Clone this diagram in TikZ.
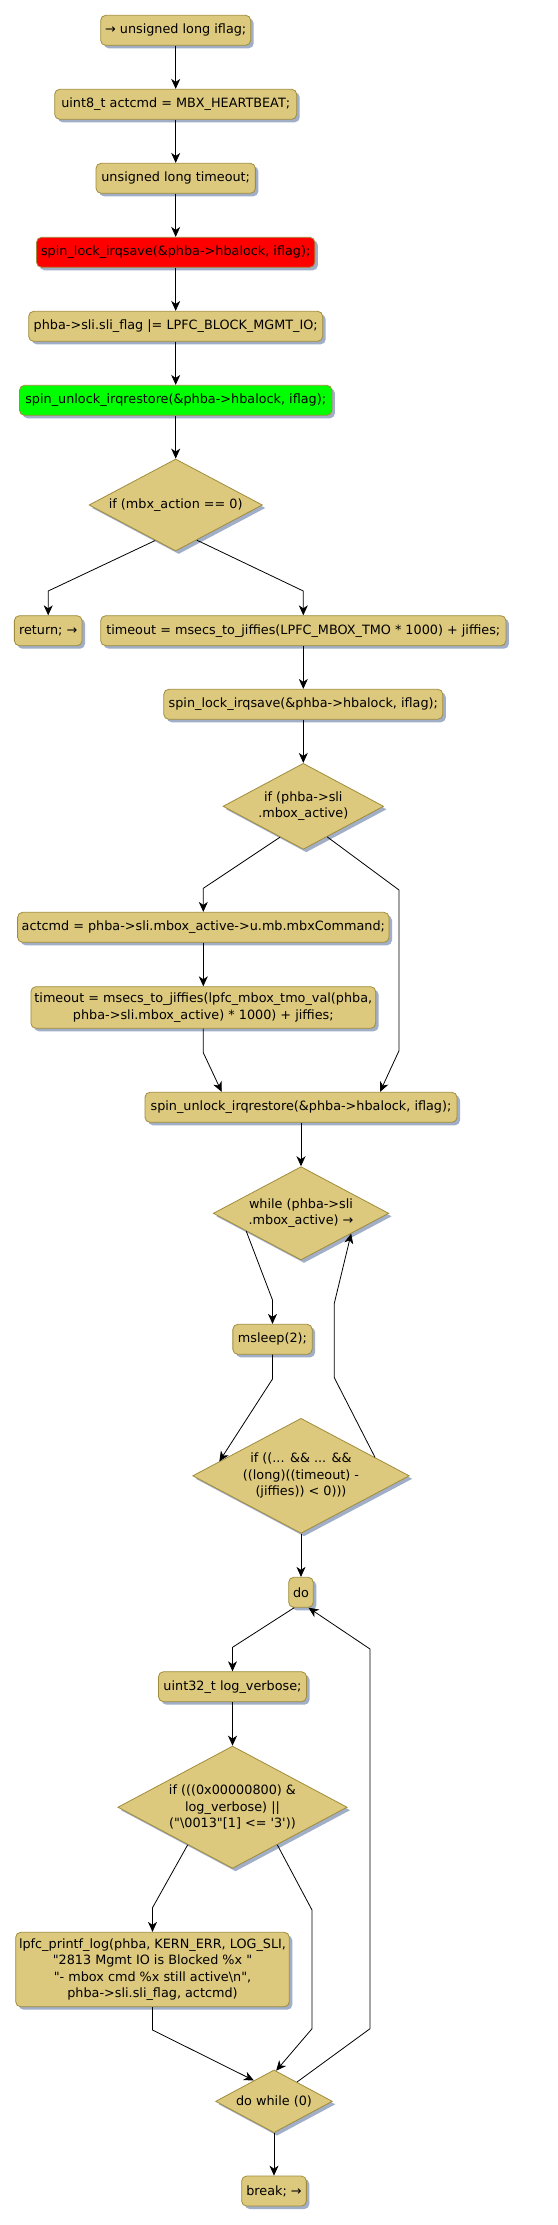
\documentclass[tikz,border=0pt]{standalone}
\usepackage{fontspec}
\newfontfamily\dvs{DejaVu Sans}
\usetikzlibrary{shapes.geometric,arrows.meta,shadows,calc}
\definecolor{boxfill}{RGB}{221,201,125}
\definecolor{boxdraw}{RGB}{160,140,60}
\definecolor{shadowc}{RGB}{160,174,200}
\definecolor{redfill}{RGB}{255,0,0}
\definecolor{greenfill}{RGB}{0,255,0}
\begin{document}
\begin{tikzpicture}[x=1pt,y=-1pt,
  every node/.style={font=\dvs\fontsize{12.8}{16.4}\selectfont},
  sbox/.style={draw=boxdraw, fill=boxfill, rounded corners=5pt, minimum height=30pt,
    inner sep=0pt, align=center, line width=0.8pt,
    general shadow={fill=shadowc, shadow xshift=3pt, shadow yshift=-3pt}},
  dbox/.style={diamond, draw=boxdraw, fill=boxfill, inner sep=0pt, line width=0.8pt,
    general shadow={fill=shadowc, shadow xshift=3pt, shadow yshift=-3pt}},
  lbl/.style={inner sep=0pt, align=center},
  conn/.style={draw=black, line width=0.8pt, -{Stealth[length=10pt,width=9pt,inset=3pt]}}
]
\fill[white] (0,0) rectangle (557,2225);
\useasboundingbox (0,0) rectangle (557,2225);

% main column
\node[sbox, minimum width=150pt] (b1) at (175.7,30.3) {→ unsigned long iflag;};
\node[sbox, minimum width=242pt] (b2) at (175.7,104.3) {uint8\_t actcmd = MBX\_HEARTBEAT;};
\node[sbox, minimum width=159.3pt] (b3) at (175.7,178.3) {unsigned long timeout;};
\node[sbox, minimum width=278.3pt, fill=redfill, draw=boxdraw] (b4) at (175.7,252.3) {spin\_lock\_irqsave(\&phba->hbalock, iflag);};
\node[sbox, minimum width=294pt] (b5) at (175.7,326.3) {phba->sli.sli\_flag |= LPFC\_BLOCK\_MGMT\_IO;};
\node[sbox, minimum width=312.4pt, fill=greenfill] (b6) at (175.7,400.3) {spin\_unlock\_irqrestore(\&phba->hbalock, iflag);};

\node[dbox, minimum width=173.3pt, minimum height=92pt] (d1) at (175.7,505) {};
\node[lbl] (t1) at (d1.center) {if (mbx\_action == 0)};

\node[sbox, minimum width=67.7pt] (ret) at (48.2,630.7) {return; →};
\node[sbox, minimum width=405.3pt] (to1) at (303.3,630.7) {timeout = msecs\_to\_jiffies(LPFC\_MBOX\_TMO * 1000) + jiffies;};
\node[sbox, minimum width=279pt] (sl2) at (303.3,704.3) {spin\_lock\_irqsave(\&phba->hbalock, iflag);};

\node[dbox, minimum width=160.6pt, minimum height=86pt] (d2) at (303.3,806.3) {};
\node[lbl] (t2) at (d2.center) {if (phba->sli\\.mbox\_active)};

\node[sbox, minimum width=371.4pt] (ac) at (203.3,927.3) {actcmd = phba->sli.mbox\_active->u.mb.mbxCommand;};
\node[sbox, minimum width=344.7pt, minimum height=41.6pt] (to2) at (203.3,1007.5) {timeout = msecs\_to\_jiffies(lpfc\_mbox\_tmo\_val(phba,\\phba->sli.mbox\_active) * 1000) + jiffies;};
\node[sbox, minimum width=312pt] (su2) at (301,1107.3) {spin\_unlock\_irqrestore(\&phba->hbalock, iflag);};

\node[dbox, minimum width=175.4pt, minimum height=93.3pt] (d3) at (301,1213.3) {};
\node[lbl] (t3) at (d3.center) {while (phba->sli\\.mbox\_active) →};

\node[sbox, minimum width=79.3pt] (ms) at (272.5,1339.3) {msleep(2);};

\node[dbox, minimum width=216.6pt, minimum height=115pt] (d4) at (301,1475.8) {};
\node[lbl] (t4) at (d4.center) {if ((... \&\& ... \&\&\\((long)((timeout) -\\(jiffies)) < 0)))};

\node[sbox, minimum width=24.6pt] (do) at (301,1592.3) {do};
\node[sbox, minimum width=148pt] (lv) at (232.5,1686.7) {uint32\_t log\_verbose;};

\node[dbox, minimum width=229.3pt, minimum height=122.3pt] (d5) at (232.5,1807.2) {};
\node[lbl] (t5) at (d5.center) {if (((0x00000800) \&\\log\_verbose) ||\\("\textbackslash 0013"[1] <= '3'))};

\node[sbox, minimum width=273.6pt, minimum height=74.4pt] (lp) at (152.5,1969.5) {lpfc\_printf\_log(phba, KERN\_ERR, LOG\_SLI,\\"2813 Mgmt IO is Blocked \%x "\\"- mbox cmd \%x still active\textbackslash n",\\phba->sli.sli\_flag, actcmd)};

\node[dbox, minimum width=116.7pt, minimum height=62.7pt] (dw) at (274,2101.3) {};
\node[lbl] (t6) at (dw.center) {do while (0)};

\node[sbox, minimum width=64.7pt] (br) at (274,2191) {break; →};

% connectors
\draw[conn] (b1) -- (b2);
\draw[conn] (b2) -- (b3);
\draw[conn] (b3) -- (b4);
\draw[conn] (b4) -- (b5);
\draw[conn] (b5) -- (b6);
\draw[conn] (b6) -- (d1);

\coordinate (k1) at (48.2,591);
\coordinate (k2) at (303.3,591);
\draw[conn] (d1.-120) -- (k1) -- (ret.north);
\draw[conn] (d1.-59) -- (k2) -- (to1.north);
\draw[conn] (to1) -- (sl2);
\draw[conn] (sl2) -- (d2);

\coordinate (k3) at (203.3,888.3);
\coordinate (k4) at (399,890);
\coordinate (k5) at (399,1050.7);
\draw[conn] (d2.-127) -- (k3) -- (ac.north);
\draw[conn] (d2.-52) -- (k4) -- (k5) -- ($(su2.north)+(79,0)$);
\draw[conn] (ac) -- (to2);
\coordinate (k6) at (203.3,1052.7);
\draw[conn] (to2.south) -- (k6) -- ($(su2.north)+(-79.3,0)$);
\draw[conn] (su2) -- (d3);

\coordinate (k7) at (272.5,1300);
\draw[conn] (d3.-162) -- (k7) -- (ms.north);
\coordinate (k8) at (272.5,1379);
\draw[conn] (ms.south) -- (k8) -- (d4.170);
\coordinate (k9) at (334.3,1377.7);
\coordinate (k10) at (334.3,1303.3);
\draw[conn] (d4.14) -- (k9) -- (k10) -- (d3.-22);
\draw[conn] (d4.south) -- (do.north);

\coordinate (k11) at (232.5,1647.3);
\draw[conn] (do.-114) -- (k11) -- (lv.north);
\draw[conn] (lv) -- (d5);

\coordinate (k12) at (152.5,1907.7);
\coordinate (k13) at (312,1910);
\coordinate (k14) at (312,2028.7);
\draw[conn] (d5.-140) -- (k12) -- (lp.north);
\draw[conn] (d5.-40) -- (k13) -- (k14) -- (dw.86);
\coordinate (k15) at (152.5,2030);
\draw[conn] (lp.south) -- (k15) -- (dw.134);

\coordinate (k16) at (370,2028.7);
\coordinate (k17) at (370,1649);
\draw[conn] (dw.40) -- (k16) -- (k17) -- (do.-64);
\draw[conn] (dw) -- (br);
\end{tikzpicture}
\end{document}
